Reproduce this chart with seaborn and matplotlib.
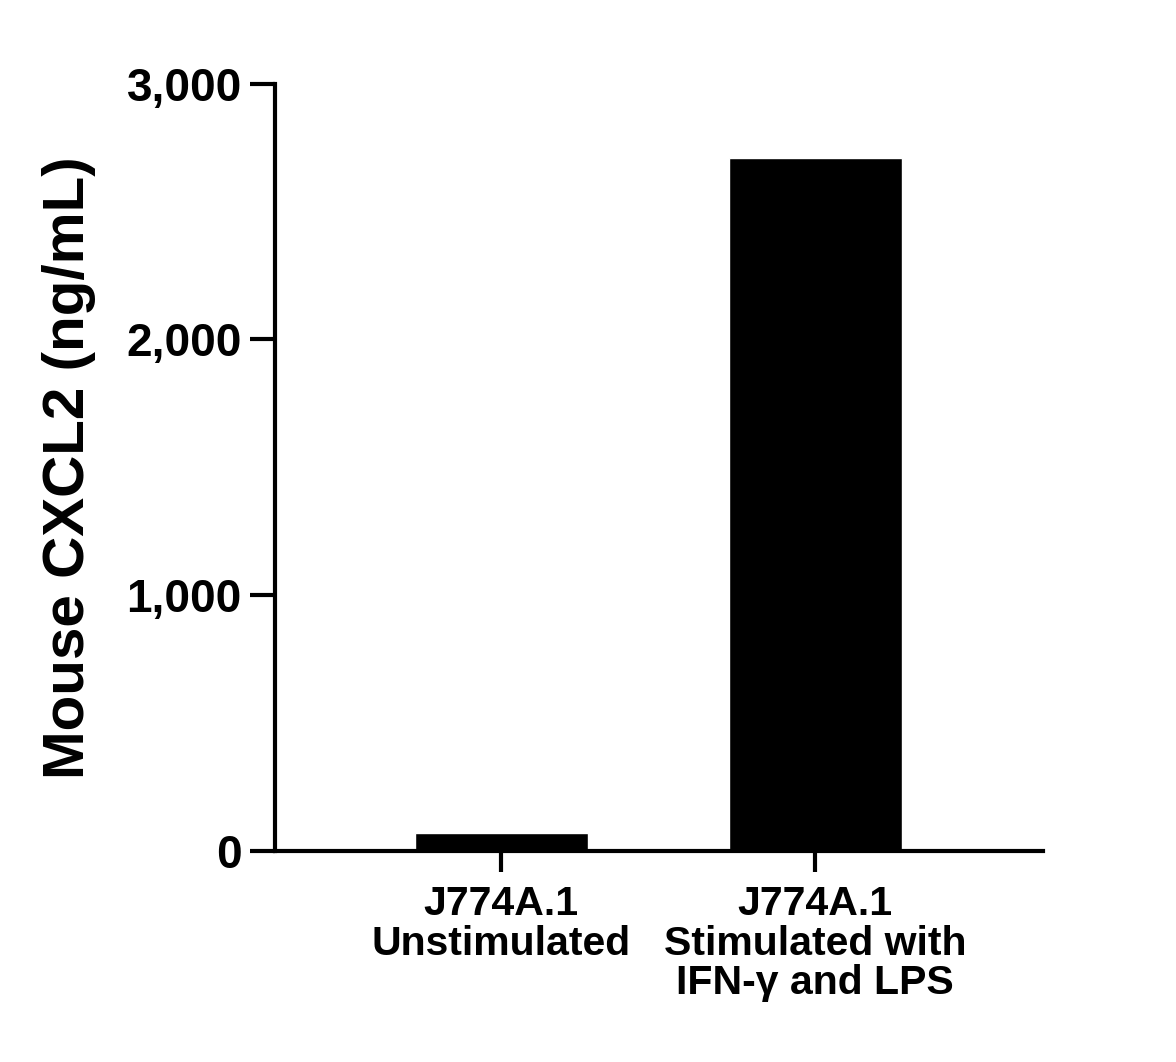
import matplotlib
matplotlib.use("Agg")
import matplotlib.pyplot as plt
import seaborn as sns
import pandas as pd

categories = ["J774A.1\nUnstimulated", "J774A.1\nStimulated with\nIFN-γ and LPS"]
values = [70, 2710]
yticks = [0, 1000, 2000, 3000]
ytick_labels = ["0", "1,000", "2,000", "3,000"]

sns.set_style("ticks")
plt.rcParams['font.family'] = ['Liberation Sans', 'DejaVu Sans']
plt.rcParams['font.weight'] = 'bold'
plt.rcParams['text.color'] = 'black'
plt.rcParams['xtick.color'] = 'black'
plt.rcParams['ytick.color'] = 'black'
plt.rcParams['axes.labelcolor'] = 'black'

fig = plt.figure(figsize=(11.76, 10.62), dpi=100)
ax = fig.add_axes([0.234, 0.199, 0.653, 0.722])
df = pd.DataFrame({"cat": categories, "val": values})
sns.barplot(data=df, x="cat", y="val", color="black", width=0.55, ax=ax, saturation=1)
ax.set_xlim(-0.72, 1.726)
ax.set_ylim(0, 3000)
ax.set_yticks(yticks)
ax.set_yticklabels(ytick_labels, fontsize=33, fontweight='bold', color='black')
ax.set_xticks([0, 1])
ax.set_xticklabels(categories, fontsize=29.5, fontweight='bold', color='black', linespacing=1.05)
ax.set_xlabel("")
ax.set_ylabel("Mouse CXCL2 (ng/mL)", fontsize=42, fontweight='bold', labelpad=22, color='black')
for s in ["top", "right"]:
    ax.spines[s].set_visible(False)
for s in ["left", "bottom"]:
    ax.spines[s].set_linewidth(3)
    ax.spines[s].set_color("black")
ax.tick_params(axis='y', length=18, width=3, color='black', pad=6)
ax.tick_params(axis='x', length=15, width=3, color='black', pad=10)
ax.spines['left'].set_bounds(0, 3000)
fig.savefig("out.png", dpi=100)
